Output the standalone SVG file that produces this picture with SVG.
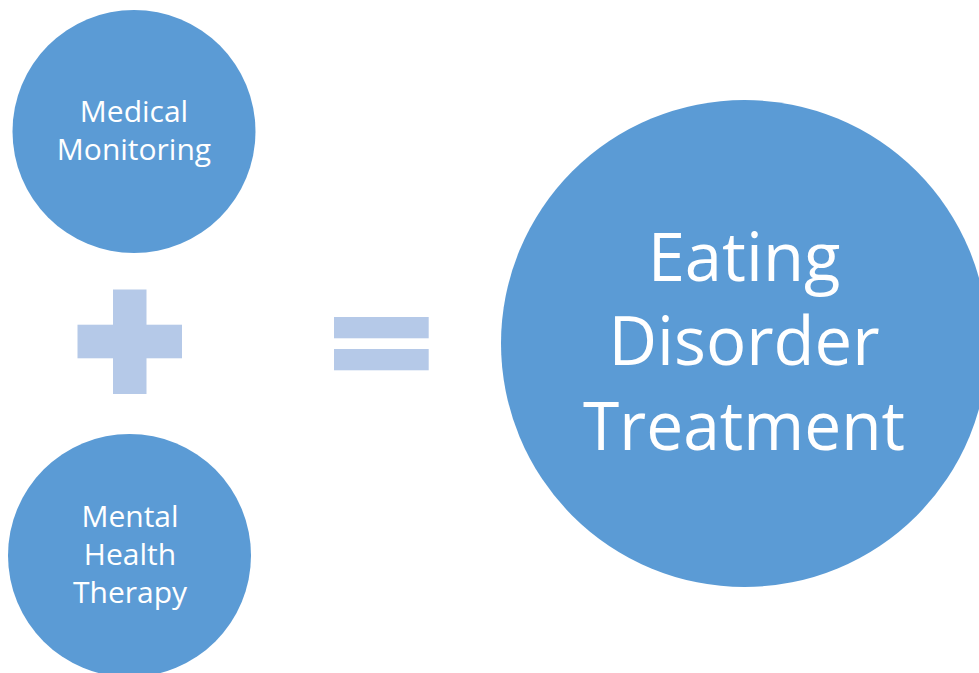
<svg xmlns="http://www.w3.org/2000/svg" width="979" height="673" viewBox="0 0 979 673">
<style>
.node{fill:#5B9BD5}
.op{fill:#B5C9E8}
.t{fill:#FFFFFF;font-family:"Open Sans","Liberation Sans",sans-serif;text-anchor:middle}
.s{font-size:30px}
.b{font-size:67px}
</style>
<rect width="979" height="673" fill="#FFFFFF"/>
<g id="medical-monitoring">
<circle class="node" cx="134" cy="131.5" r="121.5"/>
<text class="t s" x="134" y="122.3">Medical</text>
<text class="t s" x="134" y="160">Monitoring</text>
</g>
<g id="mental-health-therapy">
<circle class="node" cx="129.5" cy="555.5" r="121.5"/>
<text class="t s" x="130" y="527.3">Mental</text>
<text class="t s" x="130" y="565">Health</text>
<text class="t s" x="130" y="602.7">Therapy</text>
</g>
<g id="plus">
<rect class="op" x="113" y="289.5" width="33.5" height="104.5"/>
<rect class="op" x="77.5" y="324.7" width="104.5" height="33.6"/>
</g>
<g id="equals">
<rect class="op" x="334" y="317" width="94.7" height="21.3"/>
<rect class="op" x="334" y="349" width="94.7" height="21.3"/>
</g>
<g id="eating-disorder-treatment">
<circle class="node" cx="744.5" cy="343.5" r="243.5"/>
<text class="t b" x="744" y="280.7">Eating</text>
<text class="t b" x="744" y="365">Disorder</text>
<text class="t b" x="744" y="450" textLength="322" lengthAdjust="spacingAndGlyphs">Treatment</text>
</g>
<g id="connectors"/>
</svg>
